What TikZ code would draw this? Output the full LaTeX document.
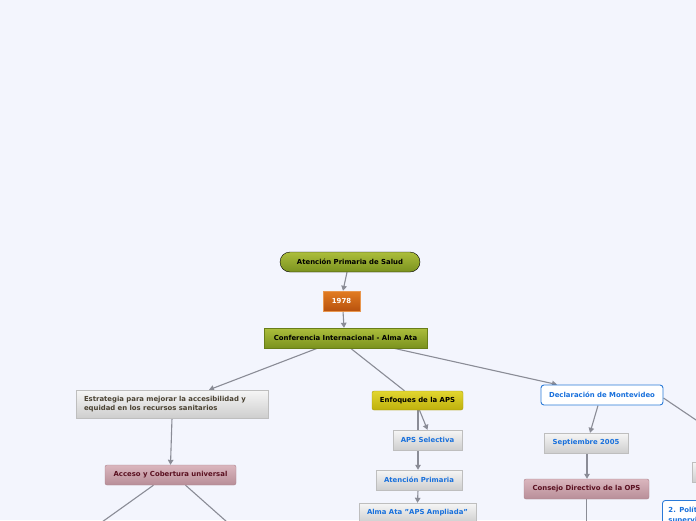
\documentclass[tikz,border=0pt]{standalone}
\usepackage{fontspec}
\setmainfont{DejaVu Sans}
\usepackage{xcolor}
\usepackage{tikz}
\usetikzlibrary{arrows.meta, positioning}
\definecolor{pagebg}{RGB}{243,245,253}
\definecolor{linkgray}{RGB}{138,140,150}
\definecolor{olivetop}{RGB}{172,190,60}
\definecolor{olivebot}{RGB}{122,146,30}
\definecolor{oliveline}{RGB}{104,126,24}
\definecolor{orangetop}{RGB}{226,124,34}
\definecolor{orangebot}{RGB}{184,82,14}
\definecolor{graytop}{RGB}{246,246,246}
\definecolor{graybot}{RGB}{206,206,206}
\definecolor{grayline}{RGB}{190,190,190}
\definecolor{pinktop}{RGB}{218,182,190}
\definecolor{pinkbot}{RGB}{184,142,152}
\definecolor{pinkline}{RGB}{170,130,140}
\definecolor{maroontext}{RGB}{90,16,32}
\definecolor{yellowtop}{RGB}{226,214,48}
\definecolor{yellowbot}{RGB}{190,176,12}
\definecolor{yellowline}{RGB}{168,154,16}
\definecolor{bluetext}{RGB}{24,112,220}
\definecolor{blueline}{RGB}{42,122,216}
\definecolor{browntext}{RGB}{74,66,50}
\pgfdeclarelayer{back}
\pgfdeclarelayer{lines}
\pgfsetlayers{back,lines,main}
\tikzset{
  box/.style={draw, inner sep=0pt, minimum height=20pt, align=center,
    font=\fontsize{6.9}{9.2}\selectfont\bfseries},
  olivebox/.style={box, top color=olivetop, bottom color=olivebot, draw=oliveline},
  orangebox/.style={box, top color=orangetop, bottom color=orangebot, draw=orangetop!80!white, text=white},
  graybox/.style={box, top color=graytop, bottom color=graybot, draw=grayline, text=bluetext},
  pinkbox/.style={box, top color=pinktop, bottom color=pinkbot, draw=pinkline, text=maroontext, rounded corners=2pt},
  yellowbox/.style={box, top color=yellowtop, bottom color=yellowbot, draw=yellowline, rounded corners=2pt},
  bluebox/.style={box, fill=white, draw=blueline, line width=0.9pt, text=bluetext, rounded corners=3pt},
  link/.style={draw=linkgray, line width=1.1pt},
  arrowlink/.style={link, -{Triangle[length=5pt,width=5.5pt]}}
}

\begin{document}
\begin{tikzpicture}[x=1pt,y=-1pt]
\clip (0,0) rectangle (696,520);
\begin{pgfonlayer}{back}
\fill[pagebg] (0,0) rectangle (696,520);
\end{pgfonlayer}

\node[olivebox, draw=black, minimum width=140pt, rounded corners=10pt] (aps) at (350,262) {Atención Primaria de Salud};
\node[orangebox, minimum width=37pt] (year) at (341.5,301) {1978};
\node[olivebox, minimum width=163pt] (conf) at (345.5,338) {Conferencia Internacional - Alma Ata};

\node[box, top color=graytop, bottom color=graybot, draw=grayline, text=browntext,
  minimum width=192pt, minimum height=28pt, align=left, text width=176pt, inner xsep=8pt] (estr) at (172,404)
  {Estrategia para mejorar la accesibilidad y\\equidad en los recursos sanitarios};
\node[pinkbox, minimum width=131pt] (acceso) at (170.5,475) {Acceso y Cobertura universal};
\coordinate (accleft) at (102,522);
\coordinate (accright) at (227,522);

\node[yellowbox, minimum width=91pt, minimum height=19pt] (enf) at (417.5,400.5) {Enfoques de la APS};
\node[graybox, minimum width=69pt] (sel) at (427.5,440) {APS Selectiva};
\node[graybox, minimum width=86pt] (aten) at (419,480) {Atención Primaria};
\node[graybox, minimum width=117pt] (alma) at (417.5,513) {Alma Ata "APS Ampliada"};

\node[bluebox, minimum width=122pt] (mont) at (602,395) {Declaración de Montevideo};
\coordinate (montright) at (702,424);
\node[graybox, minimum width=84pt] (sept) at (586,443) {Septiembre 2005};
\node[pinkbox, minimum width=125pt] (cons) at (586.5,489) {Consejo Directivo de la OPS};
\coordinate (consdown) at (586.5,522);
\node[graybox, minimum width=60pt, anchor=west] (mgray) at (692,472) {};
\node[bluebox, minimum width=100pt, minimum height=30pt, anchor=north west, align=left, text width=88pt] (pol) at (662,500) {2. Política\\supervisión};

\begin{pgfonlayer}{lines}
\draw[arrowlink] ([xshift=-3pt]aps.south) -- ([xshift=1.5pt]year.north);
\draw[arrowlink] ([xshift=1.5pt]year.south) -- ([xshift=-1.5pt]conf.north);
\draw[arrowlink] ([xshift=-28pt]conf.south) -- ([xshift=37pt]estr.north);
\draw[link] ([xshift=5pt]conf.south) -- ([xshift=-13pt]enf.north);
\draw[arrowlink] ([xshift=48pt]conf.south) -- ([xshift=-45pt]mont.north);
\draw[link] ([yshift=-3pt]mont.east) -- (montright);
\draw[arrowlink] (estr.south) -- (acceso.north);
\draw[link] ([xshift=-17pt]acceso.south) -- (accleft);
\draw[link] ([xshift=15pt]acceso.south) -- (accright);
\draw[arrowlink] ([xshift=2pt]enf.south) -- (sel.north);
\draw[arrowlink] ([xshift=0.5pt]enf.south) -- ([xshift=-1pt]aten.north);
\draw[arrowlink] ([xshift=-1pt]aten.south) -- (alma.north);
\draw[arrowlink] ([xshift=-4pt]mont.south) -- ([xshift=4pt]sept.north);
\draw[arrowlink] ([xshift=1pt]sept.south) -- ([xshift=0.5pt]cons.north);
\draw[link] (cons.south) -- (consdown);
\end{pgfonlayer}
\end{tikzpicture}
\end{document}
